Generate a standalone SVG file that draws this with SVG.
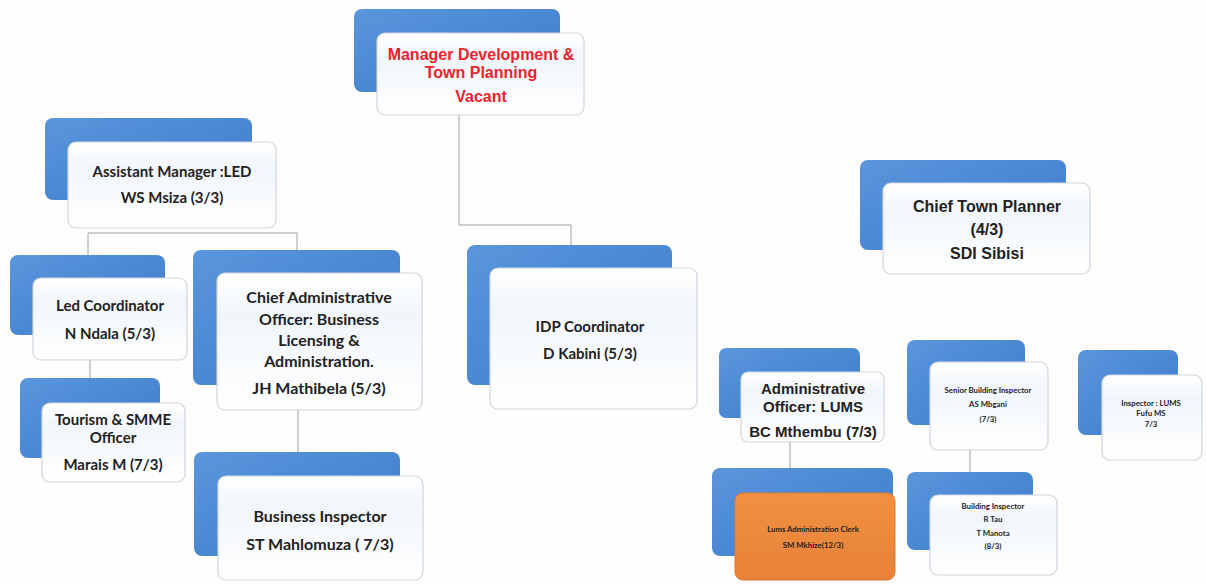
<svg xmlns="http://www.w3.org/2000/svg" width="1206" height="585" viewBox="0 0 1206 585">
<defs>
  <linearGradient id="blue" x1="0" y1="0" x2="1" y2="1">
    <stop offset="0" stop-color="#5a96dc"/>
    <stop offset="0.5" stop-color="#4a88d4"/>
    <stop offset="1" stop-color="#3f7cc8"/>
  </linearGradient>
  <linearGradient id="card" x1="0" y1="0" x2="0" y2="1">
    <stop offset="0" stop-color="#ffffff"/>
    <stop offset="0.3" stop-color="#f1f6fb"/>
    <stop offset="1" stop-color="#ffffff"/>
  </linearGradient>
  <linearGradient id="orange" x1="0" y1="0" x2="0" y2="1">
    <stop offset="0" stop-color="#f09040"/>
    <stop offset="1" stop-color="#e8823a"/>
  </linearGradient>
  <style>
    .back { fill: url(#blue); }
    .front { fill: url(#card); stroke: #cfd6de; stroke-width: 1.2; }
    .front-o { fill: url(#orange); stroke: #e07a30; stroke-width: 1; }
    .link { fill: none; stroke: #9aa0a6; stroke-width: 1; }
    .t { font-family: Lato, "Open Sans", "Liberation Sans", sans-serif; font-weight: bold; fill: #222; text-anchor: middle; }
    .a { font-family: "Liberation Sans", Arial, sans-serif; font-weight: bold; fill: #222; text-anchor: middle; }
    .red { fill: #e8242c; }
    .s15 { font-size: 15px; }
    .s16 { font-size: 16px; }
    .tiny { font-size: 7.8px; }
  </style>
</defs>
<rect width="1206" height="585" fill="#fffdfb"/>

<g id="connectors">
  <path class="link" d="M459,115 V225 H571 V245"/>
  <path class="link" d="M88,255 V233 H297 V250"/>
  <path class="link" d="M90,360 V378"/>
  <path class="link" d="M298,410 V452"/>
  <path class="link" d="M790,442 V468"/>
  <path class="link" d="M970,450 V472"/>
</g>

<g id="manager">
  <rect class="back" x="354" y="9" width="206" height="83" rx="8"/>
  <rect class="front" x="377" y="33" width="207" height="82" rx="8"/>
  <text class="a red s16" x="481" y="60">Manager Development &amp;</text>
  <text class="a red s16" x="481" y="78">Town Planning</text>
  <text class="a red s16" x="481" y="102">Vacant</text>
</g>

<g id="assistant-manager">
  <rect class="back" x="45" y="118" width="207" height="82" rx="8"/>
  <rect class="front" x="68" y="142" width="208" height="86" rx="8"/>
  <text class="t s15" x="172" y="177">Assistant Manager :LED</text>
  <text class="t s15" x="172" y="203">WS Msiza (3/3)</text>
</g>

<g id="led-coordinator">
  <rect class="back" x="10" y="255" width="155" height="80" rx="8"/>
  <rect class="front" x="33" y="278" width="154" height="82" rx="8"/>
  <text class="t s15" x="110" y="311">Led Coordinator</text>
  <text class="t s15" x="110" y="339">N Ndala (5/3)</text>
</g>

<g id="tourism-officer">
  <rect class="back" x="20" y="378" width="140" height="80" rx="8"/>
  <rect class="front" x="42" y="403" width="143" height="79" rx="8"/>
  <text class="t s15" x="113" y="425">Tourism &amp; SMME</text>
  <text class="t s15" x="113" y="443">Officer</text>
  <text class="t s15" x="113" y="470">Marais M (7/3)</text>
</g>

<g id="chief-admin-officer">
  <rect class="back" x="193" y="250" width="207" height="135" rx="8"/>
  <rect class="front" x="217" y="273" width="205" height="137" rx="8"/>
  <text class="t s16" x="319" y="303">Chief Administrative</text>
  <text class="t s16" x="319" y="325">Officer: Business</text>
  <text class="t s16" x="319" y="346">Licensing &amp;</text>
  <text class="t s16" x="319" y="367">Administration.</text>
  <text class="t s16" x="319" y="394">JH Mathibela (5/3)</text>
</g>

<g id="business-inspector">
  <rect class="back" x="194" y="452" width="206" height="104" rx="8"/>
  <rect class="front" x="218" y="476" width="205" height="104" rx="8"/>
  <text class="t s16" x="320" y="522">Business Inspector</text>
  <text class="t s16" x="320" y="550">ST Mahlomuza ( 7/3)</text>
</g>

<g id="idp-coordinator">
  <rect class="back" x="467" y="245" width="205" height="140" rx="8"/>
  <rect class="front" x="490" y="268" width="207" height="141" rx="8"/>
  <text class="t s15" x="590" y="332">IDP Coordinator</text>
  <text class="t s15" x="590" y="359">D Kabini (5/3)</text>
</g>

<g id="chief-town-planner">
  <rect class="back" x="860" y="160" width="206" height="90" rx="8"/>
  <rect class="front" x="883" y="183" width="207" height="91" rx="8"/>
  <text class="a s16" x="987" y="212">Chief Town Planner</text>
  <text class="a s16" x="987" y="235">(4/3)</text>
  <text class="a s16" x="987" y="259">SDI Sibisi</text>
</g>

<g id="admin-officer-lums">
  <rect class="back" x="719" y="348" width="141" height="70" rx="7"/>
  <rect class="front" x="741" y="372" width="143" height="70" rx="7"/>
  <text class="a s15" x="813" y="394">Administrative</text>
  <text class="a s15" x="813" y="412">Officer:  LUMS</text>
  <text class="a s15" x="813" y="437">BC Mthembu  (7/3)</text>
</g>

<g id="lums-clerk">
  <rect class="back" x="712" y="468" width="181" height="88" rx="8"/>
  <rect class="front-o" x="735" y="493" width="160" height="87" rx="8"/>
  <text class="t tiny" x="813" y="532">Lums Administration Clerk</text>
  <text class="t tiny" x="813" y="548">SM Mkhize(12/3)</text>
</g>

<g id="senior-building-inspector">
  <rect class="back" x="907" y="340" width="118" height="85" rx="8"/>
  <rect class="front" x="930" y="362" width="118" height="88" rx="8"/>
  <text class="t tiny" x="988" y="393">Senior Building Inspector</text>
  <text class="t tiny" x="988" y="407">AS Mbgani</text>
  <text class="t tiny" x="988" y="422">(7/3)</text>
</g>

<g id="building-inspector">
  <rect class="back" x="907" y="472" width="126" height="78" rx="8"/>
  <rect class="front" x="930" y="495" width="127" height="80" rx="8"/>
  <text class="t tiny" x="993" y="509">Building Inspector</text>
  <text class="t tiny" x="993" y="522">R Tau</text>
  <text class="t tiny" x="993" y="536">T Manota</text>
  <text class="t tiny" x="993" y="549">(8/3)</text>
</g>

<g id="inspector-lums">
  <rect class="back" x="1078" y="350" width="100" height="85" rx="8"/>
  <rect class="front" x="1102" y="375" width="100" height="85" rx="8"/>
  <text class="t tiny" x="1151" y="406">Inspector : LUMS</text>
  <text class="t tiny" x="1151" y="416">Fufu MS</text>
  <text class="t tiny" x="1151" y="427">7/3</text>
</g>
</svg>
